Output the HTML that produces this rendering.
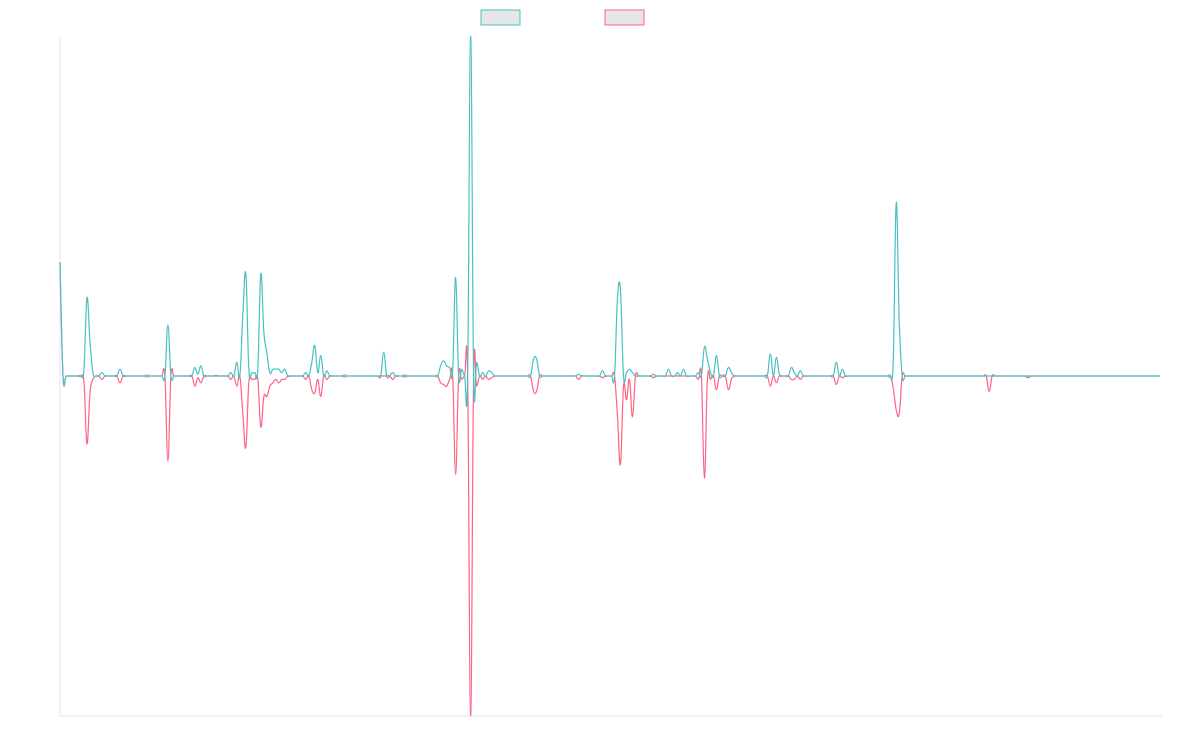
<!DOCTYPE html>
<html><head><meta charset="utf-8"><style>
html,body{margin:0;padding:0;background:#fff;}
svg{display:block;font-family:"Liberation Sans",sans-serif;}
</style></head><body>
<svg id="chart" width="1200" height="750" viewBox="0 0 1200 750">
<rect x="481" y="10" width="39" height="15" fill="#e6e6e6" stroke="rgb(75,192,192)" stroke-width="1"/>
<rect x="605" y="10" width="39" height="15" fill="#e6e6e6" stroke="rgb(255,99,132)" stroke-width="1"/>
<line x1="60" y1="36" x2="60" y2="716" stroke="#e5e5e5"/>
<line x1="60" y1="716" x2="1162" y2="716" stroke="#e5e5e5"/>
<g id="series"></g>
</svg>
<script>
const tealValues=[
33.5,0,0,0,0,0,0,0,2,23,10,1,0,0,1,0,0,0,0,0,
2,0,0,0,0,0,0,0,0,0.3,0,0,0,0,0,0,15,0,0,0,
0,0,0,0,0,2.5,0.5,3,0,0,0,0,0.2,0,0,0,0,1,0,4,
0,18,30,2,1,1,2,30,13,7,1,2,2,2,1,2,0,0,0,0,
0,0,1,0,4,9,1,6,0,1.5,0,0,0,0,0,0.3,0,0,0,0,
0,0,0,0,0,0,0,0,7,0,0,1,0,0,0,0.3,0,0,0,0,
0,0,0,0,0,0,0,3,4.5,3,2.5,1.5,29,0,2,0,0,100,0,4,
0,1,0,1.5,1,0,0,0,0,0,0,0,0,0,0,0,0,0,5,5,
0,0,0,0,0,0,0,0,0,0,0,0,0,0.5,0,0,0,0,0,0,
0,1.5,0,0,0,0,23,25,0,1,2,1,0,0,0,0,0,0,0.5,0,
0,0,0,2,0,0,1,0,2,0,0,0,0,1,0,8.5,5,1,0,6,
0,0,0,2.5,1,0,0,0,0,0,0,0,0,0,0,0,0,6.5,0,5.5,
0.5,0,0,0,2.5,1,0,1.5,0,0,0,0,0,0,0,0,0,0,0,4,
0,2,0,0,0,0,0,0,0,0,0,0,0,0,0,0,0,0,4.5,51,
16,0,0,0,0,0,0,0,0,0,0,0,0,0,0,0,0,0,0,0,
0,0,0,0,0,0,0,0,0,0,0,0,0,0,0,0,0,0,0,0,
0,0,0,0,0,0,0,0,0,0,0,0,0,0,0,0,0,0,0,0,
0,0,0,0,0,0,0,0,0,0,0,0,0,0,0,0,0,0,0,0,
0,0,0,0,0,0,0,0];
const pinkValues=[
33.5,0,0,0,0,0,0,0,-2,-20,-5,-1,0,0,-1,0,0,0,0,0,
-2,0,0,0,0,0,0,0,0,-0.3,0,0,0,0,0,0,-25,0,0,0,
0,0,0,0,0,-3,-0.5,-2,0,0,0,0,0,0,0,0,0,-1,0,-3,
0,-11,-21,-2,-1,-1,-1,-15,-6,-6,-3,-2,-1,-2,-1,-1,0,0,0,0,
0,0,-1,0,-4,-5,-1,-6,0,-1,0,0,0,0,0,-0.3,0,0,0,0,
0,0,0,0,0,0,0,0,0,0,0,-1,0,0,0,-0.3,0,0,0,0,
0,0,0,0,0,0,0,-2,-2.5,-3,-1,0,-29,0,-1,0,0,-100,0,-3,
0,-1,0,-1,-0.5,0,0,0,0,0,0,0,0,0,0,0,0,0,-4.5,-4.5,
0,0,0,0,0,0,0,0,0,0,0,0,0,-1,0,0,0,0,0,0,
0,-0.5,0,0,0,0,-12,-26,-3,-7,-1,-12,0,0,0,0,0,0,-0.5,0,
0,0,0,0,0,0,0,0,0,0,0,0,0,-1,0,-30,-1,-1,0,-4,
0,0,0,-4,-1,0,0,0,0,0,0,0,0,0,0,0,0,-3,0,-2,
0,0,0,0,-1,-1,0,-1,0,0,0,0,0,0,0,0,0,0,0,-2.5,
0,-0.5,0,0,0,0,0,0,0,0,0,0,0,0,0,0,0,0,-3.5,-10,
-11,0,0,0,0,0,0,0,0,0,0,0,0,0,0,0,0,0,0,0,
0,0,0,0,0,0,0,0,0,0,-4.5,0,0,0,0,0,0,0,0,0,
0,0,0,-0.5,0,0,0,0,0,0,0,0,0,0,0,0,0,0,0,0,
0,0,0,0,0,0,0,0,0,0,0,0,0,0,0,0,0,0,0,0,
0,0,0,0,0,0,0,0];
const yMin=-100, yMax=100;
const X0=60, X1=1160, Y0=716, Y1=36;
function xScale(i,n){return X0+i*(X1-X0)/(n-1);}
function yScale(v){return Y0-(v-yMin)/(yMax-yMin)*(Y0-Y1);}
const g=document.getElementById('series');
function draw(vals,color,name){
  const pts=vals.map((v,i)=>[xScale(i,vals.length),yScale(v)]);
  const t=0.2;
  let d='M'+pts[0][0].toFixed(2)+','+pts[0][1].toFixed(2);
  for(let i=0;i<pts.length-1;i++){
    const p0=pts[Math.max(0,i-1)],p1=pts[i],p2=pts[i+1],p3=pts[Math.min(pts.length-1,i+2)];
    let c1y=p1[1]+(p2[1]-p0[1])*t, c2y=p2[1]-(p3[1]-p1[1])*t;
    c1y=Math.max(Y1,Math.min(Y0,c1y)); c2y=Math.max(Y1,Math.min(Y0,c2y));
    const c1x=p1[0]+(p2[0]-p0[0])*t, c2x=p2[0]-(p3[0]-p1[0])*t;
    d+='C'+c1x.toFixed(2)+','+c1y.toFixed(2)+' '+c2x.toFixed(2)+','+c2y.toFixed(2)+' '+p2[0].toFixed(2)+','+p2[1].toFixed(2);
  }
  const p=document.createElementNS('http://www.w3.org/2000/svg','path');
  p.setAttribute('d',d);
  p.setAttribute('fill','none');
  p.setAttribute('stroke',color);
  p.setAttribute('stroke-width','1.2');
  p.setAttribute('stroke-linejoin','round');
  
  
  g.appendChild(p);
}
draw(pinkValues,'rgb(255,99,132)','pink-series-line');
draw(tealValues,'rgb(75,192,192)','teal-series-line');
</script>
</body></html>
